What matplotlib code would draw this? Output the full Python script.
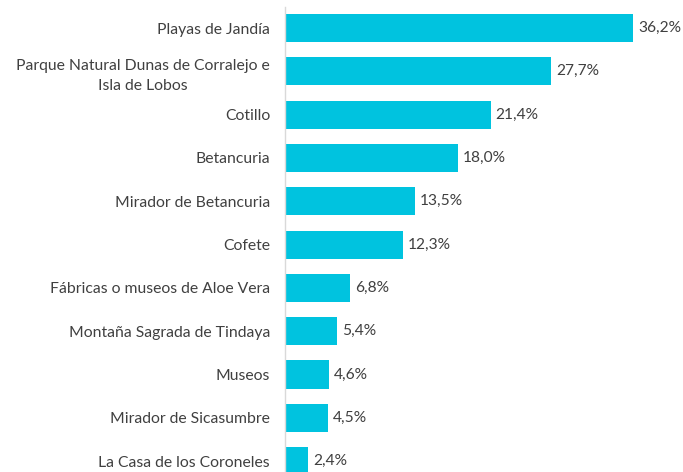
import matplotlib.pyplot as plt

lugares = [
    'Playas de Jandía',
    'Parque Natural Dunas de Corralejo e\nIsla de Lobos',
    'Cotillo',
    'Betancuria',
    'Mirador de Betancuria',
    'Cofete',
    'Fábricas o museos de Aloe Vera',
    'Montaña Sagrada de Tindaya',
    'Museos',
    'Mirador de Sicasumbre',
    'La Casa de los Coroneles',
]
porcentajes = [36.2, 27.7, 21.4, 18.0, 13.5, 12.3, 6.8, 5.4, 4.6, 4.5, 2.4]

plt.rcParams['font.family'] = ['Lato', 'DejaVu Sans']

fig = plt.figure(figsize=(6.83, 4.72), dpi=100)
ax = fig.add_axes([285 / 683, 0, 1 - 285 / 683, (472 - 7) / 472])

y = list(range(len(lugares)))
ax.barh(y, porcentajes, height=0.65, color='#00C3DF')

for yi, v in zip(y, porcentajes):
    ax.annotate(f'{v:.1f}'.replace('.', ',') + '%', (v, yi),
                xytext=(3.6, 0), textcoords='offset points',
                va='center', ha='left', fontsize=11.2, color='#404040')

ax.set_xlim(0, (683 - 285) / 9.61)
ax.set_ylim(10.25, -0.485)
ax.set_yticks(y)
ax.set_yticklabels(lugares, fontsize=11.3, color='#404040', linespacing=1.55)
for lbl in ax.get_yticklabels():
    lbl.set_multialignment('center')
ax.tick_params(axis='y', length=0, pad=10.8)
ax.set_xticks([])

for s in ['top', 'right', 'bottom']:
    ax.spines[s].set_visible(False)
ax.spines['left'].set_color('#D9D9D9')
ax.spines['left'].set_linewidth(1)

fig.savefig('out.png', dpi=100)
